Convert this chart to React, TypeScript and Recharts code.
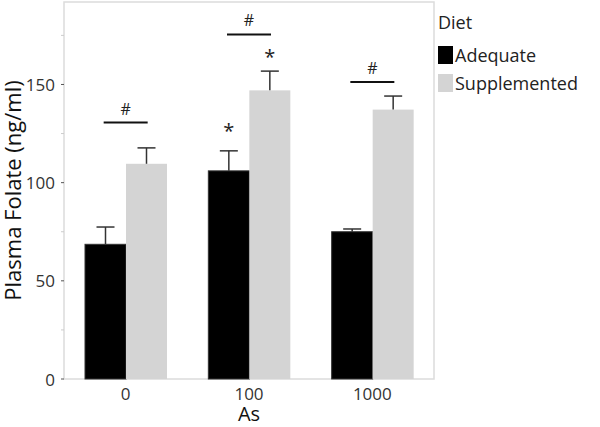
import React from "react";
import {
  ComposedChart,
  Bar,
  Scatter,
  XAxis,
  YAxis,
  Legend,
  ReferenceArea,
  Label,
} from "recharts";

const categories = ["0", "100", "1000"];
const adequate = [68.6, 106, 75];
const adequateErr = [8.8, 10.2, 1.4];
const supplemented = [109.6, 147, 137.2];
const supplementedErr = [8.1, 9.8, 6.9];
const adequateSig = ["", "*", ""];
const supplementedSig = ["", "*", ""];
const bracketY = [130.6, 175.5, 151.2];
const bracketLabel = ["#", "#", "#"];
const yTicks = [0, 25, 50, 75, 100, 125, 150, 175];
const yMajor = [0, 50, 100, 150];

const data = categories.map((c, i) => ({
  as: c,
  adequate: adequate[i],
  adequateErr: adequateErr[i],
  adequateSig: adequateSig[i],
  supplemented: supplemented[i],
  supplementedErr: supplementedErr[i],
  supplementedSig: supplementedSig[i],
  bracket: bracketY[i],
  bracketLabel: bracketLabel[i],
}));

const FONT = "'Open Sans', 'Noto Sans', sans-serif";

const makeShape = (errKey: string, sigKey: string, starGap: number) => (props: any) => {
  const { x, y, width, height, fill, stroke, payload, value } = props;
  const v = Array.isArray(value) ? value[1] - value[0] : value;
  const ppu = v ? height / v : 0;
  const err = payload[errKey] || 0;
  const top = y - err * ppu;
  const cx = x + width / 2;
  const sig = payload[sigKey];
  return (
    <g>
      <rect x={x} y={y} width={width} height={height} fill={fill} stroke={stroke} strokeWidth={1} />
      <line x1={cx} y1={y} x2={cx} y2={top} stroke="#333" strokeWidth={1.5} />
      <line x1={cx - 9} y1={top} x2={cx + 9} y2={top} stroke="#333" strokeWidth={1.5} />
      {sig ? (
        <text x={cx} y={top - starGap} textAnchor="middle" dominantBaseline="central" fontSize={20} fontFamily={FONT} fill="#222">
          {sig}
        </text>
      ) : null}
    </g>
  );
};

const BracketShape = (props: any) => {
  const { cx, cy, payload } = props;
  if (cx == null || cy == null) return null;
  return (
    <g>
      <line x1={cx - 22} y1={cy} x2={cx + 22} y2={cy} stroke="#111" strokeWidth={2} />
      <text x={cx} y={cy - 14} textAnchor="middle" dominantBaseline="central" fontSize={16} fontFamily={FONT} fill="#222">
        {payload.bracketLabel}
      </text>
    </g>
  );
};

const YTick = (props: any) => {
  const { x, y, payload } = props;
  const major = yMajor.includes(payload.value);
  return (
    <g>
      <line x1={x + 6} y1={y} x2={x + 9} y2={y} stroke={major ? "#555" : "#ccc"} strokeWidth={1} />
      {major ? (
        <text x={x} y={y} textAnchor="end" dominantBaseline="central" fontSize={17} fontFamily={FONT} fill="#333">
          {payload.value}
        </text>
      ) : null}
    </g>
  );
};

const LegendContent = (props: any) => {
  const { payload } = props;
  const items = (payload || []).filter((p: any) => p.type !== "none" && p.dataKey !== "bracket");
  return (
    <div style={{ fontFamily: FONT, color: "#222" }}>
      <div style={{ fontSize: 18, lineHeight: "24px", marginBottom: 7 }}>Diet</div>
      {items.map((p: any) => (
        <div key={p.value} style={{ display: "flex", alignItems: "center", height: 28 }}>
          <div style={{ width: 15, height: 18, background: p.color, marginRight: 2 }} />
          <span style={{ fontSize: 18 }}>{p.value}</span>
        </div>
      ))}
    </div>
  );
};

export default function App() {
  return (
    <div style={{ position: "absolute", left: 0, top: 0, width: 600, height: 427, background: "#fff" }}>
      <ComposedChart
        width={600}
        height={427}
        data={data}
        margin={{ top: 2, right: 6, bottom: 0, left: 0 }}
        barCategoryGap={21}
        barGap={0}
      >
        <ReferenceArea y1={0} y2={192} fill="none" stroke="#dcdcdc" strokeWidth={1.5} ifOverflow="visible" />
        <XAxis
          dataKey="as"
          height={48}
          axisLine={false}
          tickLine={false}
          tickMargin={3}
          tick={{ fontSize: 17, fontFamily: FONT, fill: "#333" }}
        >
          <Label value="As" position="insideBottom" offset={6} style={{ fontSize: 20, fontFamily: FONT, fill: "#111" }} />
        </XAxis>
        <YAxis
          width={64}
          domain={[0, 192]}
          ticks={yTicks}
          interval={0}
          axisLine={false}
          tickLine={false}
          tickSize={3}
          tickMargin={6}
          tick={<YTick />}
        >
          <Label
            value="Plasma Folate (ng/ml)"
            angle={-90}
            position="insideLeft"
            offset={13}
            style={{ fontSize: 22, fontFamily: FONT, fill: "#111", textAnchor: "middle" }}
          />
        </YAxis>
        <Legend
          layout="vertical"
          verticalAlign="top"
          align="right"
          content={<LegendContent />}
          wrapperStyle={{ left: 438, top: 10, width: 160 }}
        />
        <Bar
          dataKey="adequate"
          name="Adequate"
          fill="#000"
          stroke="#333"
          isAnimationActive={false}
          shape={makeShape("adequateErr", "adequateSig", 20)}
        />
        <Bar
          dataKey="supplemented"
          name="Supplemented"
          fill="#d4d4d4"
          isAnimationActive={false}
          shape={makeShape("supplementedErr", "supplementedSig", 15)}
        />
        <Scatter dataKey="bracket" isAnimationActive={false} shape={<BracketShape />} legendType="none" />
      </ComposedChart>
    </div>
  );
}
